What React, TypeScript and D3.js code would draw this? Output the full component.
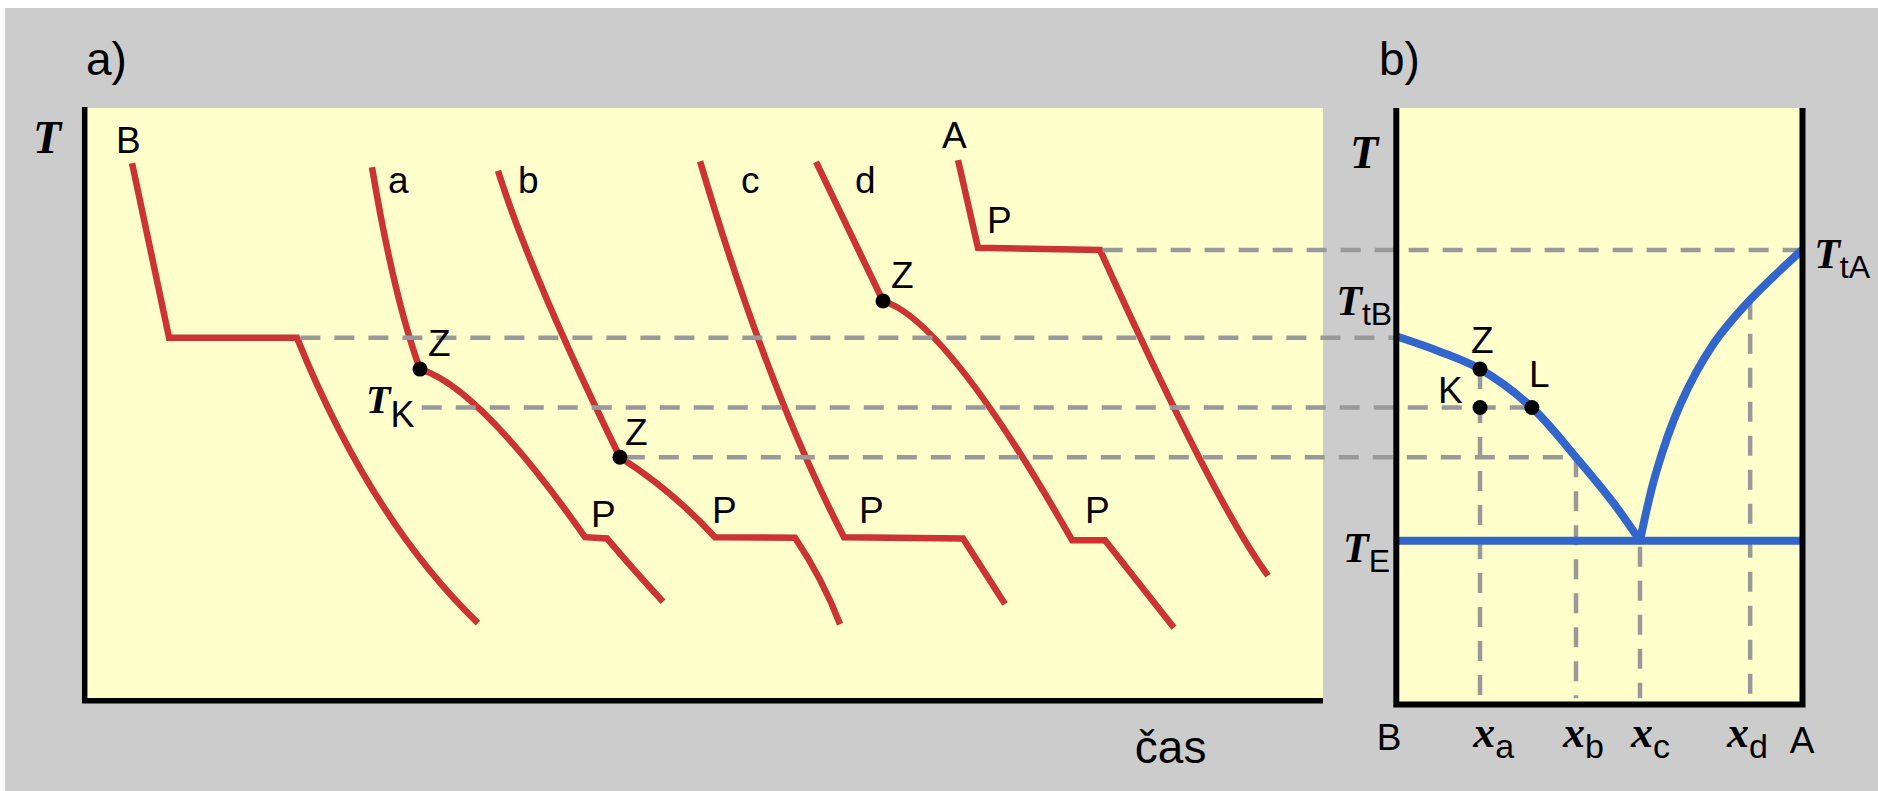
import React from 'react';
import * as d3 from 'd3';

type Pt = [number, number];

// a) cooling curves: [time, temperature]. Every inner array is one piece:
// two points = straight, three points = smooth arc through the middle one.
// The pieces meet at sharp corners (start / end of a plateau).
const curveB: Pt[][] = [
  [[3.8, 90.7], [6.79, 61.2]],
  [[6.79, 61.2], [17.12, 61.2]],
  [[17.12, 61.2], [23.75, 33.8], [31.74, 13.0]],
];
const curveA1: Pt[][] = [
  [[23.18, 90.0], [25.04, 70.4], [27.06, 55.9]],
  [[27.06, 55.9], [32.79, 47.3], [40.39, 27.5]],
  [[40.39, 27.5], [42.16, 27.3]],
  [[42.16, 27.3], [44.35, 22.0], [46.69, 16.6]],
];
const curveB1: Pt[][] = [
  [[33.36, 89.4], [37.16, 68.4], [43.21, 41.0]],
  [[43.21, 41.0], [47.25, 34.8], [50.89, 27.5]],
  [[50.89, 27.5], [57.35, 27.4]],
  [[57.35, 27.4], [59.37, 20.3], [60.99, 12.8]],
];
const curveC1: Pt[][] = [
  [[49.68, 91.0], [55.33, 55.7], [61.31, 27.5]],
  [[61.31, 27.5], [70.92, 27.3]],
  [[70.92, 27.3], [74.31, 16.2]],
];
const curveD1: Pt[][] = [
  [[59.05, 90.9], [64.46, 67.4]],
  [[64.46, 67.4], [70.84, 55.7], [79.73, 27.0]],
  [[79.73, 27.0], [82.39, 27.0]],
  [[82.39, 27.0], [87.96, 12.2]],
];
const curveA: Pt[][] = [
  [[70.52, 91.2], [72.13, 76.4]],
  [[72.13, 76.4], [81.99, 76.0]],
  [[81.99, 76.0], [89.98, 41.0], [95.56, 21.0]],
];
const coolingCurves = [curveB, curveA1, curveB1, curveC1, curveD1, curveA];

// start of crystallisation on the cooling curves
const zPoints: Pt[] = [[27.06, 55.9], [43.21, 41.0], [64.46, 67.4]];

// labels of panel a: [text, time, temperature]
const curveLabels: [string, number, number][] = [
  ['B', 2.5, 92.4], ['a', 24.47, 85.6], ['b', 34.98, 85.6], ['c', 52.99, 85.6], ['d', 62.2, 85.6], ['A', 69.22, 93.2],
  ['Z', 27.71, 58.1], ['Z', 43.62, 43.1], ['Z', 65.11, 69.6],
  ['P', 40.87, 29.2], ['P', 50.65, 29.9], ['P', 62.52, 29.9], ['P', 80.78, 29.9], ['P', 72.86, 78.9],
];

// b) phase diagram: [composition, temperature]
const T_tA = 76.0;
const T_tB = 61.2;
const T_E = 26.9;
const T_K = 49.4;
const liquidusB: Pt[] = [[0, 61.4], [0.1, 59.0], [0.205, 55.9], [0.333, 49.4], [0.442, 41.0], [0.533, 33.4], [0.6, 26.9]];
const liquidusA: Pt[] = [[0.6, 26.9], [0.64, 38.5], [0.7, 50.0], [0.78, 60.0], [0.872, 67.6], [1.0, 76.0]];
const diagramDots: Pt[] = [[0.205, 55.9], [0.205, 49.4], [0.333, 49.4]];
const diagramLabels: [string, number, number][] = [['Z', 0.183, 58.6], ['K', 0.101, 50.2], ['L', 0.326, 52.9]];

// composition lines x_a .. x_d: [composition, liquidus temperature]
const compLines: Pt[] = [[0.205, 55.9], [0.442, 41.0], [0.6, 26.9], [0.872, 67.6]];
const compNames = ['a', 'b', 'c', 'd'];
const compLabelPos = [0.188, 0.41, 0.578, 0.815];

// horizontal guides: temperature, start time in a), end composition in b)
const guides: [number, number, number][] = [
  [T_tA, 82.2, 1.0],
  [T_tB, 17.4, 0],
  [T_K, 27.2, 0.333],
  [41.0, 43.6, 0.442],
];

const sans = "'Liberation Sans', Arial, sans-serif";
const serif = "'Liberation Serif', 'Times New Roman', serif";
const red = '#cc3333';
const blue = '#3366cc';
const dash = '#999999';

const tScale = d3.scaleLinear().domain([0, 100]).range([85, 1323]);
const TScale = d3.scaleLinear().domain([0, 100]).range([700, 108]);
const cScale = d3.scaleLinear().domain([0, 1]).range([1397, 1802]);

const diagLine = d3.line<Pt>().x(d => cScale(d[0])).y(d => TScale(d[1])).curve(d3.curveCatmullRom.alpha(0.5));

// one path per cooling curve; an arc piece is a quadratic bezier passing through its middle point
const coolPath = (pieces: Pt[][]) => {
  const p = d3.path();
  pieces.forEach((piece, i) => {
    const pts = piece.map(([t, T]) => [tScale(t), TScale(T)]);
    if (i === 0) p.moveTo(pts[0][0], pts[0][1]);
    if (pts.length === 2) {
      p.lineTo(pts[1][0], pts[1][1]);
    } else {
      const [a, m, b] = pts;
      p.quadraticCurveTo(2 * m[0] - (a[0] + b[0]) / 2, 2 * m[1] - (a[1] + b[1]) / 2, b[0], b[1]);
    }
  });
  return p.toString();
};

const MathT = ({ x, y, sub, size = 42, anchor = 'start' }: { x: number; y: number; sub: string; size?: number; anchor?: string }) => (
  <text x={x} y={y} textAnchor={anchor} fill="black">
    <tspan fontFamily={serif} fontStyle="italic" fontWeight="bold" fontSize={size}>T</tspan>
    <tspan fontFamily={sans} fontSize={32} dy={10}>{sub}</tspan>
  </text>
);

export default function App() {
  const bottomB = 704.5;
  return (
    <svg width={1878} height={791} style={{ position: 'absolute', left: 0, top: 0, display: 'block' }}>
      <rect x={5} y={8} width={1873} height={783} fill="#cccccc" />

      {/* panel a */}
      <rect x={tScale(0)} y={TScale(100)} width={tScale(100) - tScale(0)} height={TScale(0) - TScale(100)} fill="#ffffcc" />
      {/* panel b */}
      <rect x={cScale(0)} y={TScale(100)} width={cScale(1) - cScale(0)} height={bottomB - TScale(100)} fill="#ffffcc" />

      {coolingCurves.map((c, i) => (
        <path key={i} d={coolPath(c)} fill="none" stroke={red} strokeWidth={6.5} strokeLinejoin="miter" />
      ))}

      {guides.map(([T, t0, c1], i) => (
        <line key={i} x1={tScale(t0)} x2={cScale(c1)} y1={TScale(T)} y2={TScale(T)}
          stroke={dash} strokeWidth={4.5} strokeDasharray="20 14" />
      ))}
      {compLines.map(([c, T], i) => (
        <line key={i} x1={cScale(c)} x2={cScale(c)} y1={TScale(T) + (i === 2 ? 6 : 0)} y2={TScale(0.3)}
          stroke={dash} strokeWidth={4.5} strokeDasharray="20 14" />
      ))}

      <path d={diagLine(liquidusB) || ''} fill="none" stroke={blue} strokeWidth={8} />
      <path d={diagLine(liquidusA) || ''} fill="none" stroke={blue} strokeWidth={8} />
      <line x1={cScale(0)} x2={cScale(1)} y1={TScale(T_E)} y2={TScale(T_E)} stroke={blue} strokeWidth={8} />

      {/* axes */}
      <path d={`M${tScale(0) - 0.3},${TScale(100) - 1} V${TScale(0) + 0.8} H${tScale(100)}`} fill="none" stroke="black" strokeWidth={5.5} />
      <path d={`M${cScale(0) - 0.7},${TScale(100)} V${bottomB} H${cScale(1) + 0.5} V${TScale(100)}`} fill="none" stroke="black" strokeWidth={6} strokeLinejoin="miter" />

      {zPoints.map(([t, T], i) => <circle key={i} cx={tScale(t)} cy={TScale(T)} r={7.5} fill="black" />)}
      {diagramDots.map(([c, T], i) => <circle key={i} cx={cScale(c)} cy={TScale(T)} r={7.5} fill="black" />)}

      <g fontFamily={sans} fontSize={37} fill="black">
        {curveLabels.map(([s, t, T], i) => <text key={i} x={tScale(t)} y={TScale(T)}>{s}</text>)}
        {diagramLabels.map(([s, c, T], i) => <text key={i} x={cScale(c)} y={TScale(T)}>{s}</text>)}
        <text x={cScale(0) - 8} y={750} textAnchor="middle">B</text>
        <text x={cScale(1)} y={753} textAnchor="middle">A</text>
      </g>

      <text x={86} y={75} fontFamily={sans} fontSize={46}>a)</text>
      <text x={1379} y={75} fontFamily={sans} fontSize={46}>b)</text>
      <text x={tScale(84.8)} y={763} fontFamily={sans} fontSize={46}>čas</text>

      <text x={33} y={153} fontFamily={serif} fontStyle="italic" fontWeight="bold" fontSize={46}>T</text>
      <text x={1350} y={168} fontFamily={serif} fontStyle="italic" fontWeight="bold" fontSize={46}>T</text>

      <text x={tScale(22.7)} y={TScale(48.5)} fill="black">
        <tspan fontFamily={serif} fontStyle="italic" fontWeight="bold" fontSize={40}>T</tspan>
        <tspan fontFamily={sans} fontSize={36} dy={14}>K</tspan>
      </text>
      <MathT x={cScale(-0.012)} y={TScale(65.0)} sub="tB" anchor="end" />
      <MathT x={cScale(-0.017)} y={TScale(23.3)} sub="E" anchor="end" />
      <MathT x={cScale(1.03)} y={TScale(73.0)} sub="tA" />

      {compNames.map((n, i) => (
        <text key={n} x={cScale(compLabelPos[i])} y={747} fill="black">
          <tspan fontFamily={serif} fontStyle="italic" fontWeight="bold" fontSize={44}>x</tspan>
          <tspan fontFamily={sans} fontSize={34} dy={11}>{n}</tspan>
        </text>
      ))}
    </svg>
  );
}
